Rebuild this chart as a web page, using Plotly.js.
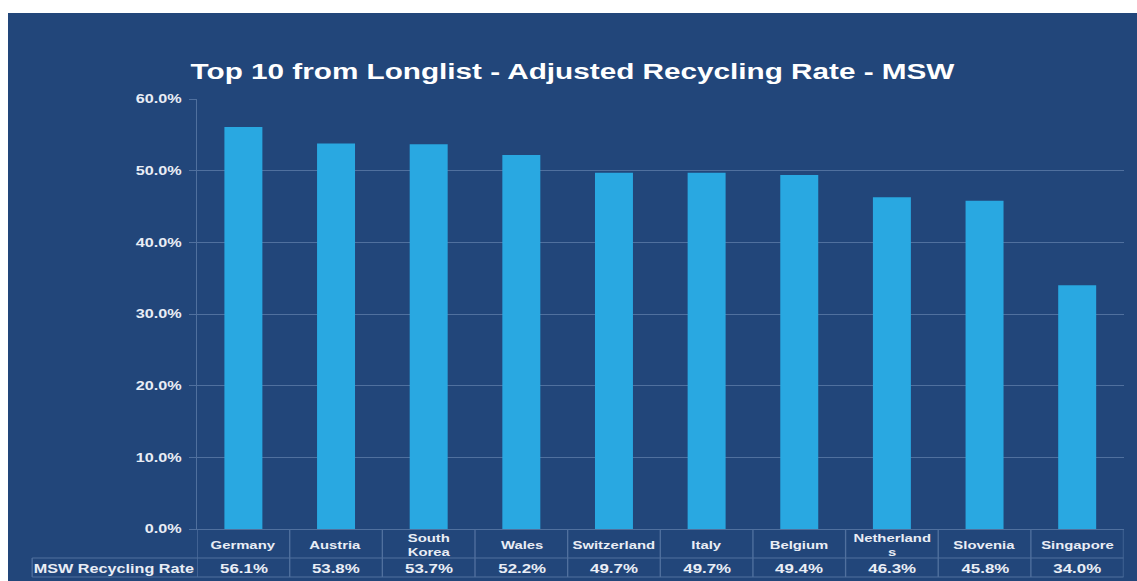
<!DOCTYPE html>
<html>
<head>
<meta charset="utf-8">
<script src="https://cdn.plot.ly/plotly-3.0.1.min.js"></script>
<style>
  html, body { margin:0; padding:0; background:#ffffff; width:1137px; height:581px; overflow:hidden; }
  #wrap { position:absolute; left:8px; top:13px; width:1129px; height:568px; overflow:hidden; background:#22467a; }
  #chart { width:836px; height:568px; transform:scaleX(1.3505); transform-origin:0 0; }
</style>
</head>
<body>
<div id="wrap"><div id="chart"></div></div>
<script>
// ---- data ----
const categories = ["Germany","Austria","South Korea","Wales","Switzerland","Italy","Belgium","Netherlands","Slovenia","Singapore"];
const categoryLabels = ["Germany","Austria","South<br>Korea","Wales","Switzerland","Italy","Belgium","Netherland<br>s","Slovenia","Singapore"];
const recyclingRate = [56.1, 53.8, 53.7, 52.2, 49.7, 49.7, 49.4, 46.3, 45.8, 34.0];
const seriesName = "MSW Recycling Rate";
const chartTitle = "Top 10 from Longlist - Adjusted Recycling Rate - MSW";

// ---- styling ----
const BG = "#22467a";
const BAR = "#29a8e1";
const GRID = "#50709e";
const TXT = "#e9edf5";
const FONT = "Liberation Sans, Arial, sans-serif";

const plotH = 568 - 86 - 52;          // plot area height in px
const py = px => -px / plotH;          // px below the x axis -> paper y
const labelLeft = -0.178;             // left edge of table row-label cell (paper x)
const rowLine = py(29), tableBottom = py(48);

const trace = {
  type: "bar",
  x: categories,
  y: recyclingRate,
  name: seriesName,
  marker: { color: BAR },
  width: 0.41,
  hoverinfo: "none"
};

const annotations = [];
categories.forEach((c, i) => {
  annotations.push({
    xref: "x", yref: "paper", x: c, y: py(16), yanchor: "middle", xanchor: "center",
    text: categoryLabels[i], showarrow: false,
    font: { family: FONT, size: 11, color: TXT, weight: "bold" }
  });
  annotations.push({
    xref: "x", yref: "paper", x: c, y: py(40), yanchor: "middle", xanchor: "center",
    text: recyclingRate[i].toFixed(1) + "%", showarrow: false,
    font: { family: FONT, size: 12.5, color: TXT, weight: "bold" }
  });
});
annotations.push({
  xref: "paper", yref: "paper", x: (labelLeft + 0) / 2, y: py(40), yanchor: "middle", xanchor: "center",
  text: seriesName, showarrow: false,
  font: { family: FONT, size: 12, color: TXT, weight: "bold" }
});

const shapes = [];
const ln = { color: GRID, width: 1 };
for (let i = 0; i <= categories.length; i++) {
  shapes.push({ type: "line", xref: "x", yref: "paper", x0: i - 0.5, x1: i - 0.5, y0: 0, y1: tableBottom, line: ln });
}
shapes.push({ type: "line", xref: "paper", yref: "paper", x0: labelLeft, x1: 1, y0: rowLine, y1: rowLine, line: ln });
shapes.push({ type: "line", xref: "paper", yref: "paper", x0: labelLeft, x1: 1, y0: tableBottom, y1: tableBottom, line: ln });
shapes.push({ type: "line", xref: "paper", yref: "paper", x0: labelLeft, x1: labelLeft, y0: rowLine, y1: tableBottom, line: ln });

const layout = {
  width: 836, height: 568,
  paper_bgcolor: BG, plot_bgcolor: BG,
  margin: { l: 140, r: 10.4, t: 86, b: 52 },
  showlegend: false,
  title: {
    text: chartTitle, x: 0.5, xref: "container", xanchor: "center",
    y: 0.898, yref: "container", yanchor: "middle",
    font: { family: FONT, size: 22, color: "#ffffff", weight: "bold" }
  },
  xaxis: {
    type: "category", showticklabels: false, ticks: "",
    showgrid: false, showline: true, linecolor: GRID, linewidth: 1,
    range: [-0.5, 9.5], fixedrange: true
  },
  yaxis: {
    range: [0, 60], dtick: 10, tick0: 0, tickformat: ".1f", ticksuffix: "%",
    showgrid: true, gridcolor: GRID, gridwidth: 1,
    zeroline: false, showline: true, linecolor: GRID, linewidth: 1,
    ticks: "outside", ticklen: 5, tickcolor: GRID, ticklabelstandoff: 3,
    tickfont: { family: FONT, size: 12, color: TXT, weight: "bold" },
    fixedrange: true
  },
  annotations: annotations,
  shapes: shapes
};

Plotly.newPlot("chart", [trace], layout, { displayModeBar: false, staticPlot: true });
</script>
</body>
</html>
